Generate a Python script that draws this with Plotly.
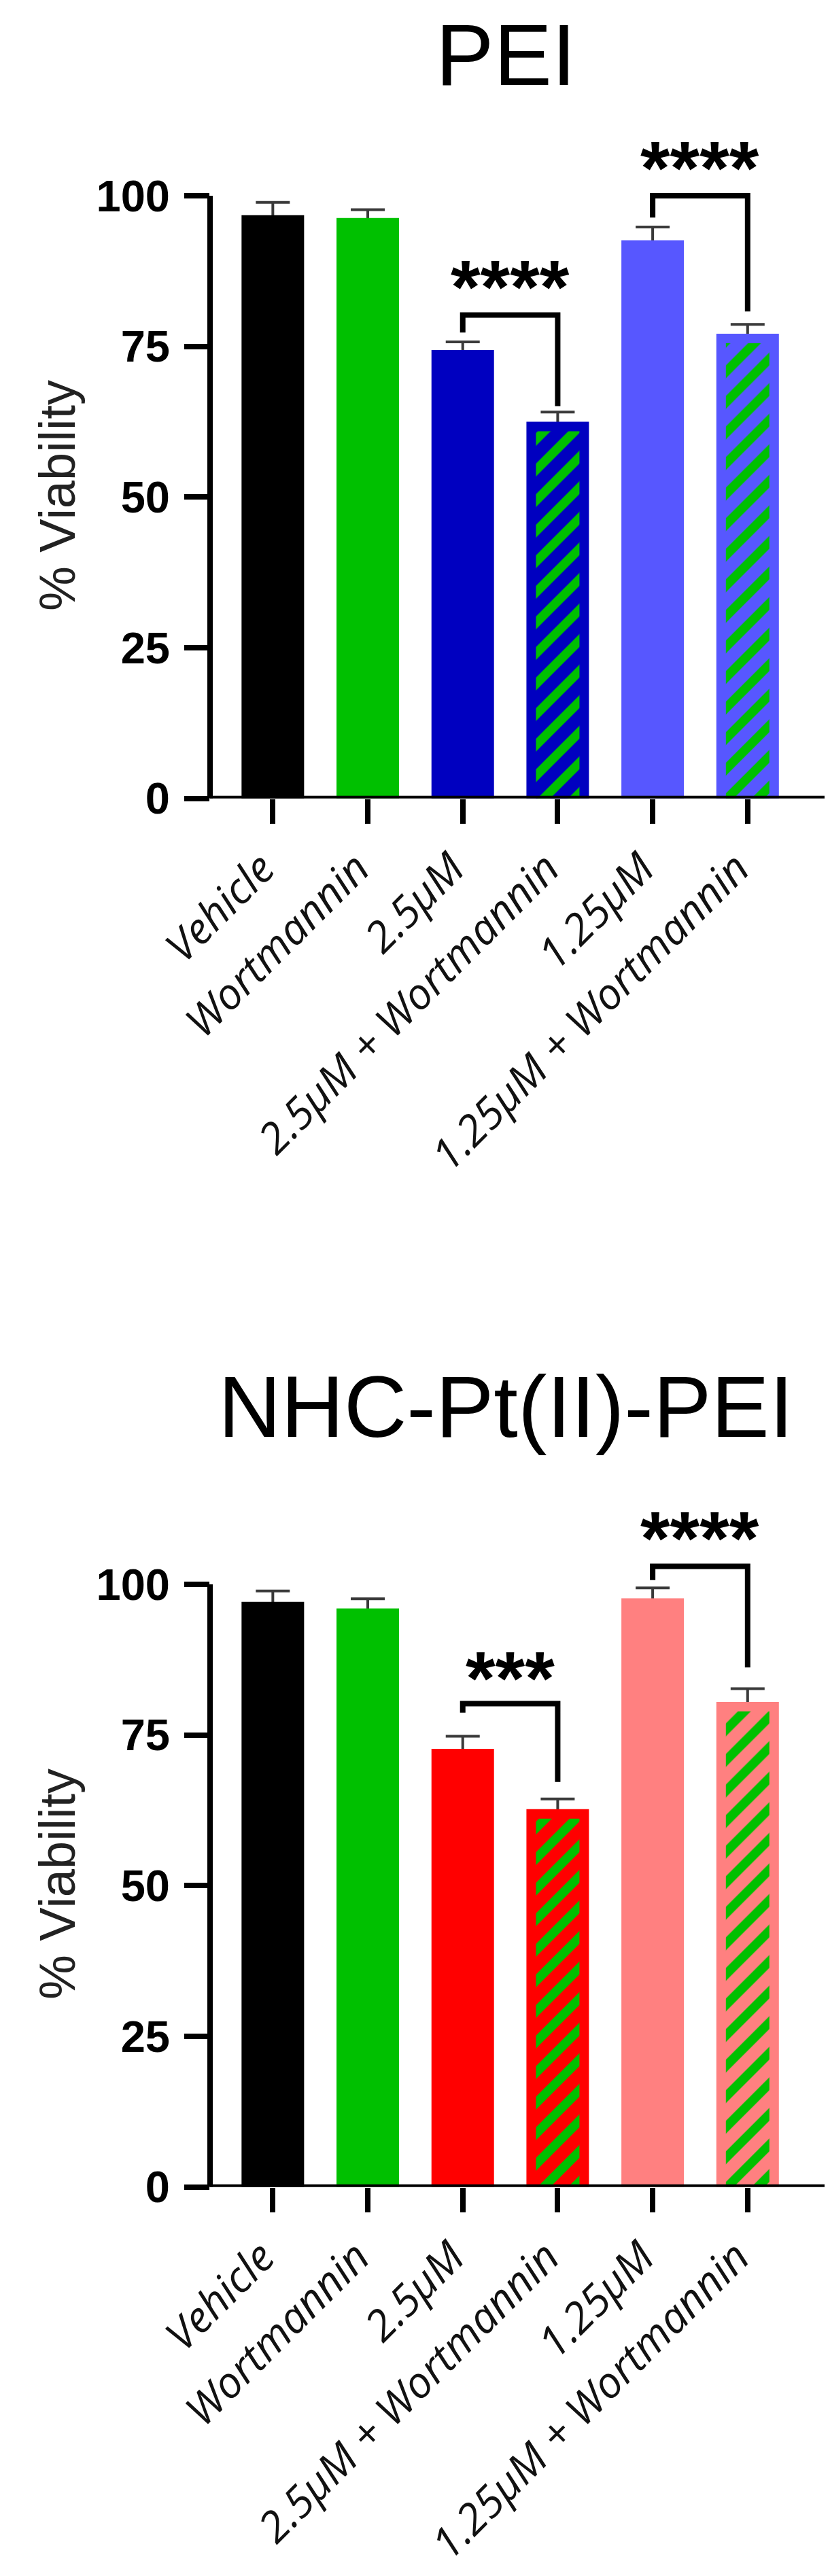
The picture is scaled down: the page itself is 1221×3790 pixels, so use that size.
import plotly.graph_objects as go

# ---------------- data ----------------
categories = ["Vehicle", "Wortmannin", "2.5µM", "2.5µM + Wortmannin", "1.25µM", "1.25µM + Wortmannin"]
hatched = [False, False, False, True, False, True]
y_ticks = [0, 25, 50, 75, 100]

pei_title = "PEI"
pei_mean = [96.8, 96.3, 74.4, 62.5, 92.6, 77.1]
pei_err = [2.1, 1.4, 1.35, 1.6, 2.2, 1.55]
pei_colors = ["#000000", "#00C000", "#0000C0", "#0000C0", "#5757FF", "#5757FF"]
# (left bar, right bar, bracket level, left leg end, right leg end, label, label level)
pei_sig = [(2, 3, 80.2, 77.3, 65.1, "****", 86.4),
           (4, 5, 100.0, 96.4, 80.8, "****", 106.2)]

pt_title = "NHC-Pt(II)-PEI"
pt_mean = [97.1, 96.0, 72.7, 62.7, 97.7, 80.5]
pt_err = [1.8, 1.6, 2.1, 1.7, 1.7, 2.2]
pt_colors = ["#000000", "#00C000", "#FF0000", "#FF0000", "#FF8080", "#FF8080"]
pt_sig = [(2, 3, 80.2, 78.7, 67.2, "***", 86.0),
          (4, 5, 103.0, 100.7, 86.2, "****", 109.2)]

stripe_color = "#00C000"
y_title = "% Viability"

# ---------------- layout constants (pixels) ----------------
W, H = 1221, 3790
X_LEFT, X_RIGHT = 301, 1216
X_RANGE = [-0.661, 5.889]
Y_RANGE = [0, 112]
PX_PER_UNIT = 8.867
PX_PER_CAT = (X_RIGHT - X_LEFT) / (X_RANGE[1] - X_RANGE[0])
BAR_PX = 92
INSET_PX = 14
BAR_W = BAR_PX / PX_PER_CAT
HATCH_W = (BAR_PX - 2 * INSET_PX) / PX_PER_CAT
INSET_U = INSET_PX / PX_PER_UNIT
LINE_W = 8
FONT = "Liberation Sans, Arial, Helvetica, sans-serif"
LABEL_FONT = "Open Sans, Noto Sans, sans-serif"
STAR_SIZE = 112

panels = [
    dict(title=pei_title, mean=pei_mean, err=pei_err, colors=pei_colors, sig=pei_sig,
         y0_px=1166.7, title_px=72, ytitle_px=721, xa="x", ya="y"),
    dict(title=pt_title, mean=pt_mean, err=pt_err, colors=pt_colors, sig=pt_sig,
         y0_px=3209.7, title_px=2061, ytitle_px=2764, xa="x2", ya="y2"),
]

fig = go.Figure()
shapes = []
annotations = []
idx = list(range(len(categories)))

for k, p in enumerate(panels):
    xa, ya = p["xa"], p["ya"]
    # error bars (drawn first, behind the bars)
    fig.add_trace(go.Bar(
        x=idx, y=p["mean"], width=BAR_W, xaxis=xa, yaxis=ya,
        marker=dict(color="rgba(0,0,0,0)", line=dict(width=0)),
        error_y=dict(type="data", array=p["err"], symmetric=True,
                     color="#3a3a3a", thickness=4, width=25),
        showlegend=False, hoverinfo="skip"))
    # solid bars
    fig.add_trace(go.Bar(
        x=idx, y=p["mean"], width=BAR_W, xaxis=xa, yaxis=ya,
        marker=dict(color=p["colors"], line=dict(width=0)),
        showlegend=False, hoverinfo="skip"))
    # hatched overlays (inset inside the solid bar)
    for i in idx:
        if not hatched[i]:
            continue
        c = p["colors"][i]
        fig.add_trace(go.Bar(
            x=[i], y=[p["mean"][i]], base=-INSET_U, width=HATCH_W, xaxis=xa, yaxis=ya,
            marker=dict(color=c, line=dict(width=0),
                        pattern=dict(shape="/", fgcolor=stripe_color, bgcolor=c,
                                     size=31.8, solidity=0.42, fillmode="replace")),
            showlegend=False, hoverinfo="skip"))

    # axis lines
    shapes.append(dict(type="line", xref=f"{xa} domain", yref=ya, x0=0, x1=1, y0=0, y1=0,
                       line=dict(color="black", width=LINE_W)))
    shapes.append(dict(type="line", xref=f"{xa} domain", yref=ya, x0=0, x1=0, y0=0, y1=100,
                       line=dict(color="black", width=LINE_W)))
    # significance brackets
    for (l, r, yh, yl, yr, lab, ylab) in p["sig"]:
        shapes.append(dict(type="path", xref=xa, yref=ya,
                           path=f"M {l},{yl} L {l},{yh} L {r},{yh} L {r},{yr}",
                           line=dict(color="black", width=LINE_W)))
        annotations.append(dict(x=(l + r) / 2, y=ylab, xref=xa, yref=ya, text=lab,
                                showarrow=False, xanchor="center", yanchor="middle",
                                yshift=-0.125 * STAR_SIZE,
                                font=dict(family=FONT, size=STAR_SIZE, color="black", weight="bold")))
    # titles
    annotations.append(dict(x=736 / W, y=1 - p["title_px"] / H, xref="paper", yref="paper",
                            text=p["title"], showarrow=False, xanchor="center", yanchor="middle",
                            font=dict(family=FONT, size=128, color="black")))
    annotations.append(dict(x=76 / W, y=1 - p["ytitle_px"] / H, xref="paper", yref="paper",
                            text=y_title, textangle=-90, showarrow=False,
                            xanchor="center", yanchor="middle",
                            font=dict(family=FONT, size=74, color="#222222")))

    y0 = p["y0_px"]
    ytop = y0 - (Y_RANGE[1] - Y_RANGE[0]) * PX_PER_UNIT
    xkey = "xaxis" if k == 0 else f"xaxis{k + 1}"
    ykey = "yaxis" if k == 0 else f"yaxis{k + 1}"
    fig.update_layout(**{
        xkey: dict(domain=[X_LEFT / W, X_RIGHT / W], range=X_RANGE, anchor=ya,
                   automargin=False,
                   tickmode="array", tickvals=idx, ticktext=categories,
                   tickangle=-45, ticks="outside", ticklen=36, tickwidth=LINE_W,
                   tickcolor="black", showline=False, showgrid=False, zeroline=False,
                   ticklabelshift=-16, ticklabelstandoff=4,
                   tickfont=dict(family=LABEL_FONT, size=63, color="#111111", style="italic")),
        ykey: dict(domain=[1 - y0 / H, 1 - ytop / H], range=Y_RANGE, anchor=xa,
                   automargin=False,
                   tickmode="array", tickvals=y_ticks, ticks="outside", ticklen=37,
                   tickwidth=LINE_W, tickcolor="black", showline=False, showgrid=False,
                   zeroline=False, ticklabelstandoff=8,
                   tickfont=dict(family=FONT, size=65, color="black", weight="bold")),
    })

fig.update_layout(
    width=W, height=H, margin=dict(l=0, r=0, t=0, b=0, pad=0, autoexpand=False),
    barmode="overlay", paper_bgcolor="white", plot_bgcolor="white",
    shapes=shapes, annotations=annotations, showlegend=False,
)

fig.write_html("out.html", config={"displayModeBar": False})
